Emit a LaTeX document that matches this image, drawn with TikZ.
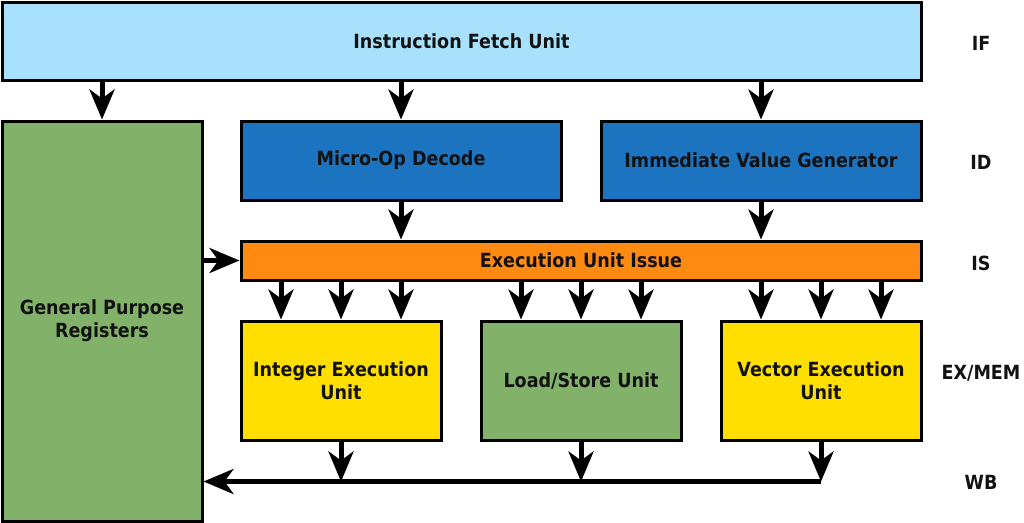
\documentclass[tikz,border=0pt]{standalone}
\usepackage{fontspec}
\setmainfont{DejaVu Sans}[FakeStretch=0.9]
\usetikzlibrary{arrows.meta}
\definecolor{ifblue}{HTML}{A9E0FC}
\definecolor{idblue}{HTML}{1C74C1}
\definecolor{isorange}{HTML}{FF8A12}
\definecolor{exyellow}{HTML}{FFDF00}
\definecolor{regreen}{HTML}{82B26A}

\begin{document}
\begin{tikzpicture}[x=1pt,y=-1pt,
	every node/.style={font=\bfseries\fontsize{19.5}{23}\selectfont,align=center,text=black!93},
	unit/.style={draw=black,line width=3pt,inner sep=0pt},
	flow/.style={line width=5pt,-{Stealth[length=30pt,width=25pt,inset=9pt]}},
	stage/.style={anchor=center}]
	\useasboundingbox (0,0) rectangle (1024,522);
	% units
	\node[unit,fill=ifblue,minimum width=919pt,minimum height=78pt] (fetch) at (461.5,41) {Instruction Fetch Unit};
	\node[unit,fill=regreen,minimum width=200pt,minimum height=400pt] (regs) at (102,321) {General Purpose\\Registers};
	\node[unit,fill=idblue,minimum width=320pt,minimum height=79pt] (decode) at (401,160.5) {Micro-Op Decode};
	\node[unit,fill=idblue,minimum width=320pt,minimum height=79pt] (imm) at (761,160.5) {Immediate Value Generator};
	\node[unit,fill=isorange,minimum width=680pt,minimum height=39pt] (issue) at (581,260.5) {Execution Unit Issue};
	\node[unit,fill=exyellow,minimum width=200pt,minimum height=119pt] (intu) at (341,380.5) {Integer Execution\\Unit};
	\node[unit,fill=regreen,minimum width=200pt,minimum height=119pt] (lsu) at (581,380.5) {Load/Store Unit};
	\node[unit,fill=exyellow,minimum width=200pt,minimum height=119pt] (vecu) at (821,380.5) {Vector Execution\\Unit};
	% stages
	\node[stage] (sif) at (981,43) {IF};
	\node[stage] (sid) at (981,162) {ID};
	\node[stage] (sis) at (981,263) {IS};
	\node[stage] (sex) at (981,373) {EX/MEM};
	\node[stage] (swb) at (981,482) {WB};
	% connectors
	\draw[flow] (fetch.south -| regs) -- (regs.north);
	\draw[flow] (fetch.south -| decode) -- (decode.north);
	\draw[flow] (fetch.south -| imm) -- (imm.north);
	\draw[flow] (decode) -- (issue.north -| decode);
	\draw[flow] (imm) -- (issue.north -| imm);
	\draw[flow] (regs.east |- issue) -- (issue.west);
	\foreach \u in {intu,lsu,vecu}
		\foreach \dx in {-60,0,60}
			\draw[flow] ([xshift=\dx pt]issue.south -| \u) -- ([xshift=\dx pt]\u.north);
	\coordinate (wb) at ([yshift=-40pt]vecu.south);
	\draw[flow] (intu.south) -- (intu.south |- wb);
	\draw[flow] (lsu.south) -- (lsu.south |- wb);
	\draw[flow] (vecu.south) -- (wb);
	\draw[flow] (wb) -- (wb -| regs.east);
\end{tikzpicture}
\end{document}
